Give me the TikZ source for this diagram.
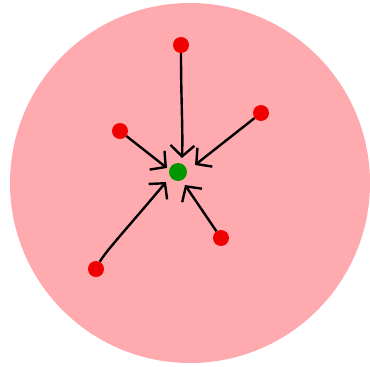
\documentclass[tikz,border=0pt]{standalone}
\usetikzlibrary{arrows.meta}
\definecolor{bgpink}{RGB}{255,170,174}
\definecolor{dotred}{RGB}{240,0,0}
\definecolor{dotgreen}{RGB}{0,150,0}
\begin{document}
\begin{tikzpicture}[x=1pt,y=-1pt,
  reddot/.style={circle,fill=dotred,draw=none,minimum size=16pt,inner sep=0pt},
  greendot/.style={circle,fill=dotgreen,draw=none,minimum size=18pt,inner sep=0pt},
  conn/.style={line width=2.4pt,-{Straight Barb[length=11pt,width=24pt,line width=2.4pt]}}]
\useasboundingbox (0,0) rectangle (370,367);
\fill[bgpink] (190,183) circle (180);
\node[greendot] (g) at (178,172) {};
\node[reddot] (t) at (181,45) {};
\node[reddot] (ur) at (261,113) {};
\node[reddot] (ul) at (120,131) {};
\node[reddot] (lr) at (221,238) {};
\node[reddot] (ll) at (96,269) {};
\coordinate (tt) at (182,158);
\coordinate (tur) at (195,165);
\coordinate (tul) at (167,168);
\coordinate (tll) at (166,182);
\coordinate (tlr) at (185,185);
\draw[conn] (t) .. controls (181,100) and (183,130) .. (tt);
\draw[conn] (ur) -- (tur);
\draw[conn] (ul) -- (tul);
\draw[conn] (ll) .. controls (105,252) and (130,225) .. (tll);
\draw[conn] (lr) -- (tlr);
\end{tikzpicture}
\end{document}
